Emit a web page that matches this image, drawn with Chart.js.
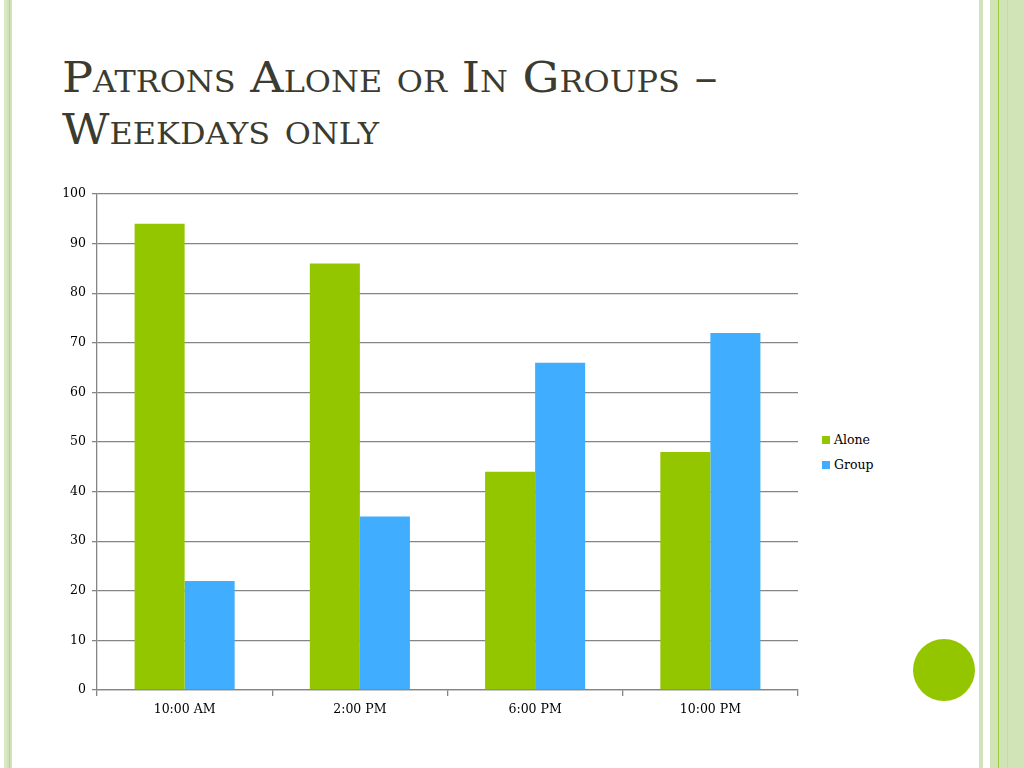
<!DOCTYPE html>
<html>
<head>
<meta charset="utf-8">
<script src="https://cdn.jsdelivr.net/npm/chart.js@4.4.0/dist/chart.umd.min.js"></script>
<style>
  body { margin: 0; width: 1024px; height: 768px; background: #fff; position: relative; overflow: hidden; }
  .stripe { position: absolute; top: 0; height: 768px; }
  #title {
    position: absolute; left: 62px; top: 52px; margin: 0;
    font-family: "DejaVu Serif", serif; font-weight: normal; font-variant: small-caps;
    font-size: 42px; line-height: 52px; color: #3b3b30;
    transform: scaleX(1.1); transform-origin: left top; white-space: nowrap;
  }
  #chartBox { position: absolute; left: 40px; top: 180px; width: 770px; height: 551px; }
  #legend { position: absolute; left: 822px; top: 427px; font-family: "DejaVu Serif", serif; font-size: 12.5px; color: #000; }
  #legend div { height: 25px; display: flex; align-items: center; }
  #legend span.box { display: inline-block; width: 8px; height: 8px; margin-right: 4px; }
  #dot { position: absolute; left: 913px; top: 639px; width: 62px; height: 62px; border-radius: 50%; background: #94c600; }
</style>
</head>
<body>
<div class="stripe" style="left:4px;width:3px;background:#d6e8c4"></div>
<div class="stripe" style="left:7px;width:5px;background:#cfe3b6"></div>
<div class="stripe" style="left:9px;width:1px;background:#b5d88a"></div>
<div class="stripe" style="left:979px;width:4px;background:#d0e3ba"></div>
<div class="stripe" style="left:990px;width:34px;background:#d0e4b8"></div>
<div class="stripe" style="left:998px;width:1px;background:#9ccb3f"></div>
<div class="stripe" style="left:1007px;width:1px;background:#c4dca6"></div>

<h1 id="title">Patrons Alone or In Groups –<br>Weekdays only</h1>

<div id="chartBox"><canvas id="chart"></canvas></div>
<div id="legend"></div>
<div id="dot"></div>

<script>
const categories = ["10:00 AM", "2:00 PM", "6:00 PM", "10:00 PM"];
const seriesNames = ["Alone", "Group"];
const aloneValues = [94, 86, 44, 48];
const groupValues = [22, 35, 66, 72];
const seriesColors = ["#94c600", "#40adff"];

const tickFont = { family: "DejaVu Serif", size: 12.5 };
const gridGray = "#858585";

new Chart(document.getElementById("chart"), {
  type: "bar",
  data: {
    labels: categories,
    datasets: [
      { label: seriesNames[0], data: aloneValues, backgroundColor: seriesColors[0] },
      { label: seriesNames[1], data: groupValues, backgroundColor: seriesColors[1] }
    ]
  },
  options: {
    responsive: true,
    maintainAspectRatio: false,
    animation: false,
    layout: { padding: { top: 14, right: 12, left: 0, bottom: 0 } },
    datasets: { bar: { categoryPercentage: 0.571, barPercentage: 1.0 } },
    plugins: { legend: { display: false }, tooltip: { enabled: false } },
    scales: {
      x: {
        grid: { drawOnChartArea: false, color: gridGray, lineWidth: 1.3, tickLength: 6, offset: true },
        border: { color: gridGray, width: 1.3 },
        ticks: { color: "#000", font: tickFont, padding: 6 },
        afterFit: (s) => { s.height = 41; }
      },
      y: {
        min: 0,
        max: 100,
        ticks: { stepSize: 10, color: "#000", font: tickFont, padding: 6 },
        grid: { color: gridGray, lineWidth: 1.3, tickLength: 5 },
        border: { color: gridGray, width: 1.3 },
        afterFit: (s) => { s.width = 57; }
      }
    }
  }
});

const legend = document.getElementById("legend");
seriesNames.forEach((name, i) => {
  const row = document.createElement("div");
  row.innerHTML = `<span class="box" style="background:${seriesColors[i]}"></span>${name}`;
  legend.appendChild(row);
});
</script>
</body>
</html>
